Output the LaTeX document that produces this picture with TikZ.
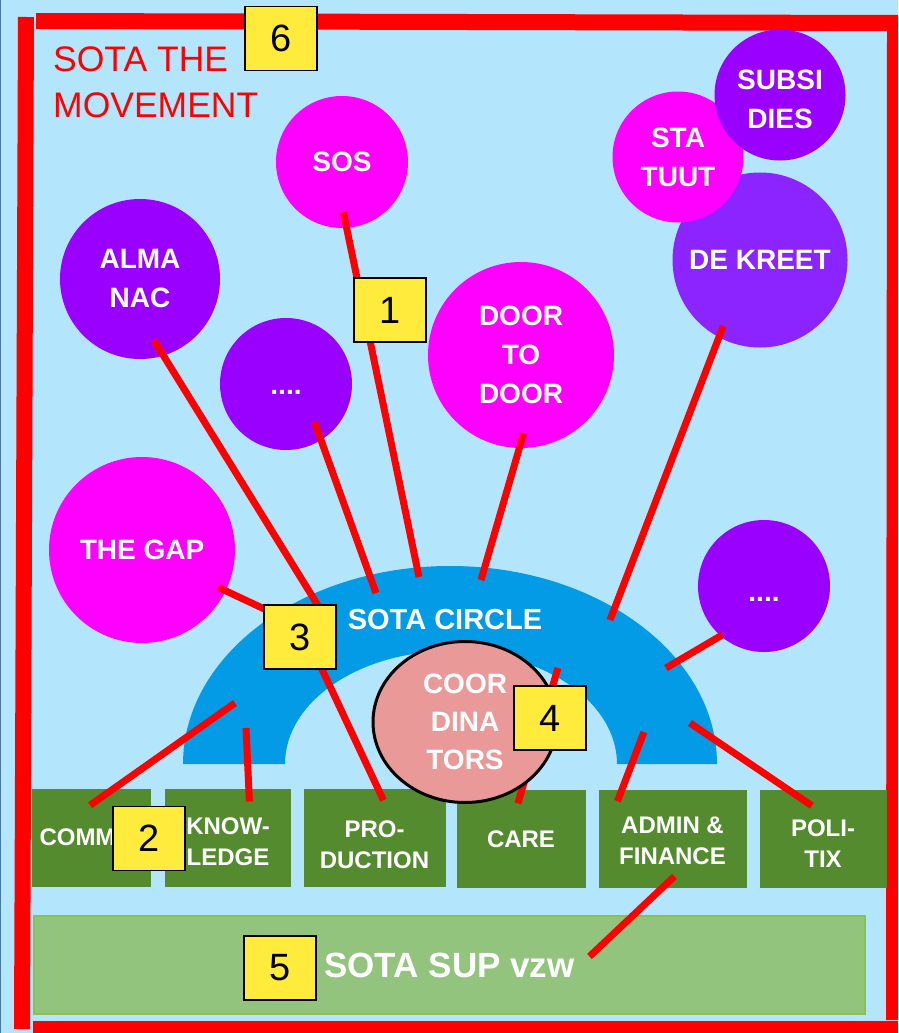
\documentclass[tikz,border=0pt]{standalone}
\usepackage{fontspec}
\setmainfont{Liberation Sans}
\usetikzlibrary{shapes.geometric}
\definecolor{skyb}{RGB}{179,229,252}
\definecolor{rand}{RGB}{70,120,170}
\definecolor{mag}{RGB}{255,0,255}
\definecolor{paars}{RGB}{153,0,255}
\definecolor{kreetpaars}{RGB}{140,36,255}
\definecolor{boog}{RGB}{3,155,229}
\definecolor{zalm}{RGB}{234,153,153}
\definecolor{groen}{RGB}{84,139,47}
\definecolor{lgroen}{RGB}{147,196,125}
\definecolor{lgrand}{RGB}{139,195,74}
\definecolor{geel}{RGB}{255,235,59}
\begin{document}
\begin{tikzpicture}[x=1pt, y=-1pt,
        bol/.style={circle, inner sep=0pt, outer sep=0pt, text=white, align=center, font=\bfseries\fontsize{28}{39}\selectfont},
        puntjes/.style={bol, fill=paars, minimum size=132pt, text height=20pt},
        dept/.style={rectangle, fill=groen, inner sep=0pt, outer sep=0pt, minimum height=98pt, text=white, align=center, font=\bfseries\fontsize{24}{31}\selectfont},
        nr/.style={rectangle, fill=geel, draw=black, line width=1.5pt, minimum width=72pt, minimum height=64pt, outer sep=0pt, font=\fontsize{38}{40}\selectfont},
        lnk/.style={draw=red, line width=7pt},
        kader/.style={draw=red, line width=16pt}
    ]
    \useasboundingbox (0,0) rectangle (898,1033);
    \clip (0,0) rectangle (898,1033);
    \fill[skyb] (0,0) rectangle (898,1033);
    \draw[rand, line width=2pt] (0,0) -- (0,1033);

    % kader
    \draw[kader] (36,21) -- (898,23);
    \draw[kader] (26,17) -- (22,1029);
    \draw[kader, line width=12pt] (893,31) -- (892,1020);
    \draw[kader, line width=14pt] (33,1028) -- (898,1028);

    \node[anchor=north west, inner sep=0pt, text=red, align=left, font=\fontsize{35.5}{46}\selectfont] (titel) at (53,47) {SOTA THE\\MOVEMENT};

    % bollen
    \node[bol, fill=mag, minimum size=132pt] (sos) at (342,162) {SOS};
    \node[bol, fill=paars, minimum size=160pt] (alma) at (140,279) {ALMA\\NAC};
    \node[puntjes] (dotsl) at (286,384) {....};
    \node[bol, fill=mag, minimum size=186pt] (door) at (521,355) {DOOR\\TO\\DOOR};
    \node[bol, fill=kreetpaars, minimum size=175pt] (kreet) at (760,260) {DE KREET};
    \node[bol, fill=mag, minimum size=131pt] (statuut) at (678,157) {STA\\TUUT};
    \node[bol, fill=paars, minimum size=131pt, text height=68pt] (subsi) at (780,95) {SUBSI\\DIES};
    \node[bol, fill=mag, minimum size=186pt] (gap) at (142,550) {THE GAP};
    \node[puntjes, text height=30pt] (dotsr) at (764,586) {....};

    % sota circle
    \fill[boog] (183,764) arc[start angle=180, end angle=0, x radius=267pt, y radius=198pt]
        -- (617,764) arc[start angle=0, end angle=180, x radius=166pt, y radius=113pt] -- cycle;
    \node[text=white, inner sep=0pt, font=\bfseries\fontsize{29}{30}\selectfont] (sotacirkel) at (445,620) {SOTA CIRCLE};

    % werkgroepen
    \node[dept, minimum width=119pt, text width=103pt, align=left] (comm) at (91,837.5) {COMM};
    \node[dept, minimum width=126pt, text height=56pt] (know) at (228,837.5) {KNOW-\\LEDGE};
    \node[dept, minimum width=142pt, text height=62pt] (prod) at (374.5,837.5) {PRO-\\DUCTION};
    \node[dept, minimum width=129pt] (care) at (521,839) {CARE};
    \node[dept, minimum width=148pt, text height=51pt] (admin) at (672.5,839) {ADMIN \&\\FINANCE};
    \node[dept, minimum width=127pt, text height=56pt] (poli) at (823,839) {POLI-\\TIX};

    \node[rectangle, fill=lgroen, draw=lgrand, line width=2pt, minimum width=831pt, minimum height=98pt, outer sep=0pt, inner sep=0pt, text=white, font=\bfseries\fontsize{35}{36}\selectfont] (sup) at (449.5,965) {SOTA SUP vzw};

    % aansluitpunten op de boog
    \coordinate (p-sos) at (419,577);
    \coordinate (p-alma) at (322,612);
    \coordinate (p-dotsl) at (376,593);
    \coordinate (p-door) at (481,580);
    \coordinate (p-kreet) at (610,620);
    \coordinate (p-gap) at (275,614);
    \coordinate (p-dotsr) at (666,668);
    \coordinate (p-comm) at (235,703);
    \coordinate (p-know) at (246,728);
    \coordinate (p-prod) at (320,665);
    \coordinate (p-care) at (558,668);
    \coordinate (p-admin) at (644,732);
    \coordinate (p-poli) at (690,723);

    \draw[lnk, shorten <=-16pt] (sos.274) -- (p-sos);
    \draw[lnk, shorten <=-18pt] (alma.287) -- (p-alma);
    \draw[lnk, shorten <=-19pt] (dotsl.302) -- (p-dotsl);
    \draw[lnk, shorten <=-15pt] (door.269) -- (p-door);
    \draw[lnk, shorten <=-12pt] (kreet.242) -- (p-kreet);
    \draw[lnk, shorten <=-8pt] (gap.334) -- (p-gap);
    \draw[lnk, shorten <=-2pt] (dotsr.229) -- (p-dotsr);
    \draw[lnk, shorten >=-29pt] (p-comm) -- (comm.65);
    \draw[lnk, shorten >=-13pt] (p-know) -- (know.67);
    \draw[lnk, shorten >=-13pt] (p-prod) -- (prod.86);
    \draw[lnk, shorten >=-14pt] (p-care) -- (care.89);
    \draw[lnk, shorten >=-12pt] (p-admin) -- (admin.136);
    \draw[lnk, shorten >=-28pt] (p-poli) -- (poli.125);
    \draw[lnk, shorten <=-17pt, shorten >=-59pt] (admin.258) -- (sup.15);

    \node[ellipse, fill=zalm, draw=black, line width=3pt, minimum width=184pt, minimum height=161pt, inner sep=0pt, outer sep=0pt, text=white, align=center, font=\bfseries\fontsize{28}{38}\selectfont] (coord) at (465,722) {COOR\\DINA\\TORS};

    % nummers
    \node[nr] (n1) at (390,310) {1};
    \node[nr] (n2) at (149,838.5) {2};
    \node[nr] (n3) at (300,637) {3};
    \node[nr] (n4) at (550,718) {4};
    \node[nr] (n5) at (280,968) {5};
    \node[nr] (n6) at (281,38.5) {6};
\end{tikzpicture}
\end{document}
